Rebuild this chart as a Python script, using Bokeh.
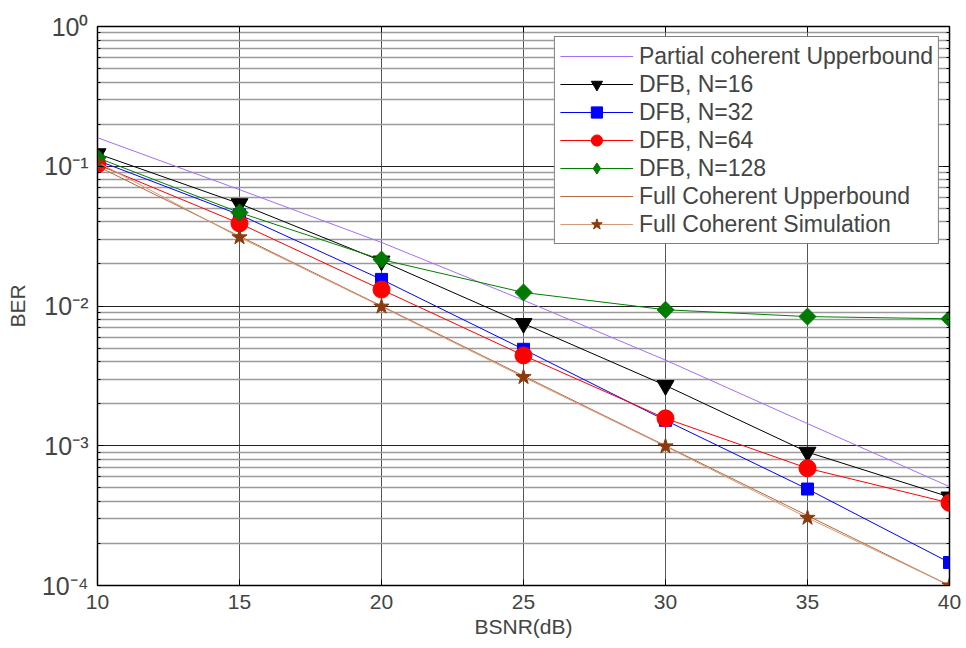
import math
from bokeh.plotting import figure
from bokeh.models import (Range1d, FixedTicker, LogAxis, LinearAxis,
                          CustomJSTickFormatter, Legend, LegendItem)
from bokeh.embed import file_html
from bokeh.resources import INLINE

# ---------------- data ----------------
bsnr = [10, 15, 20, 25, 30, 35, 40]
partial_upper = [0.16, 0.068, 0.0285, 0.011, 0.0041, 0.00144, 0.00051]
dfb_16 = [0.123, 0.054, 0.021, 0.0075, 0.0027, 0.00090, 0.00043]
dfb_32 = [0.11, 0.045, 0.0155, 0.0049, 0.00152, 0.00049, 0.000146]
dfb_64 = [0.103, 0.039, 0.0131, 0.00443, 0.00157, 0.00069, 0.00039]
dfb_128 = [0.115, 0.0466, 0.0215, 0.0125, 0.0094, 0.0084, 0.0081]
full_upper = [0.1, 0.0316, 0.01, 0.00316, 0.001, 0.000316, 0.0001]
full_sim = [0.107, 0.031, 0.0099, 0.0031, 0.00099, 0.000305, 0.0001]

x_ticks = [10, 15, 20, 25, 30, 35, 40]
y_exponents = [0, -1, -2, -3, -4]
y_tick_labels = ["10\u2070", "10\u207b\u00b9", "10\u207b\u00b2", "10\u207b\u00b3", "10\u207b\u2074"]

FONT = "Liberation Sans"

p = figure(width=966, height=648, y_axis_type="log",
           x_range=Range1d(10, 40), y_range=Range1d(1e-4, 1),
           output_backend="svg", toolbar_location=None,
           min_border_left=97, min_border_right=17,
           min_border_top=26, min_border_bottom=63)
p.background_fill_color = "white"
p.border_fill_color = "white"
p.outline_line_color = "black"
p.outline_line_width = 1.5

y_major = [10.0 ** e for e in y_exponents]
y_minor = [m * 10.0 ** e for e in y_exponents[1:] for m in range(2, 10)]

# x axis
p.xaxis.ticker = FixedTicker(ticks=x_ticks)
p.xaxis.axis_label = "BSNR(dB)"
p.xaxis.axis_label_text_font = FONT
p.xaxis.axis_label_text_font_size = "21px"
p.xaxis.axis_label_text_font_style = "normal"
p.xaxis.axis_label_standoff = 3
p.xaxis.major_label_text_font = FONT
p.xaxis.major_label_text_font_size = "21px"
p.xaxis.major_label_standoff = 9
p.xaxis.major_tick_in = 6
p.xaxis.major_tick_out = 0
p.xaxis.minor_tick_in = 0
p.xaxis.minor_tick_out = 0
p.xaxis.axis_line_color = "black"

# y axis
p.yaxis.ticker = FixedTicker(ticks=y_major, minor_ticks=y_minor)
p.yaxis.major_label_overrides = {v: t for v, t in zip(y_major, y_tick_labels)}
p.yaxis.major_label_text_font = FONT
p.yaxis.major_label_text_font_size = "25px"
p.yaxis.axis_label = "BER"
p.yaxis.axis_label_text_font = FONT
p.yaxis.axis_label_text_font_size = "21px"
p.yaxis.axis_label_text_font_style = "normal"
p.yaxis.axis_label_standoff = 10
p.yaxis.major_label_standoff = 9
p.yaxis.major_tick_in = 6
p.yaxis.major_tick_out = 0
p.yaxis.minor_tick_in = 3
p.yaxis.minor_tick_out = 0

# grids
p.xgrid.ticker = FixedTicker(ticks=x_ticks)
p.xgrid.grid_line_color = "#555555"
p.xgrid.grid_line_width = 1
p.ygrid.ticker = FixedTicker(ticks=y_major, minor_ticks=y_minor)
p.ygrid.grid_line_color = "#222222"
p.ygrid.grid_line_width = 1
p.ygrid.minor_grid_line_color = "#9a9a9a"
p.ygrid.minor_grid_line_width = 1.3

# box ticks on top/right
top_ax = LinearAxis(ticker=FixedTicker(ticks=x_ticks),
                    formatter=CustomJSTickFormatter(code="return ''"),
                    major_label_standoff=0, major_tick_in=6, major_tick_out=0,
                    minor_tick_in=0, minor_tick_out=0)
p.add_layout(top_ax, "above")
right_ax = LogAxis(ticker=FixedTicker(ticks=y_major, minor_ticks=y_minor),
                   formatter=CustomJSTickFormatter(code="return ''"),
                   major_label_standoff=0, major_tick_in=6, major_tick_out=0,
                   minor_tick_in=3, minor_tick_out=0)
p.add_layout(right_ax, "right")

# series
items = []
r = p.line(bsnr, partial_upper, line_color="#a66ef8", line_width=1)
items.append(LegendItem(label="Partial coherent Upperbound", renderers=[r]))

r1 = p.line(bsnr, dfb_16, line_color="black", line_width=1)
r2 = p.scatter(bsnr, dfb_16, marker="inverted_triangle", size=17,
               fill_color="black", line_color="black")
items.append(LegendItem(label="DFB, N=16", renderers=[r1, r2]))

r1 = p.line(bsnr, dfb_32, line_color="#0000ff", line_width=1)
r2 = p.scatter(bsnr, dfb_32, marker="square", size=12,
               fill_color="#0000ff", line_color="#0000ff")
items.append(LegendItem(label="DFB, N=32", renderers=[r1, r2]))

r1 = p.line(bsnr, dfb_64, line_color="#ff0000", line_width=1)
r2 = p.scatter(bsnr, dfb_64, marker="circle", size=17,
               fill_color="#ff0000", line_color="#ff0000")
items.append(LegendItem(label="DFB, N=64", renderers=[r1, r2]))

r1 = p.line(bsnr, dfb_128, line_color="#008000", line_width=1)
# small diamond (legend glyph) hidden under the rotated square markers
r3 = p.scatter(bsnr, dfb_128, marker="diamond", size=12,
               fill_color="#007a00", line_color="#007a00")
r2 = p.scatter(bsnr, dfb_128, marker="square", angle=math.pi / 4, size=12,
               fill_color="#007a00", line_color="#007a00")
items.append(LegendItem(label="DFB, N=128", renderers=[r1, r3]))

r = p.line(bsnr, full_upper, line_color="#b8693e", line_width=1)
items.append(LegendItem(label="Full Coherent Upperbound", renderers=[r]))

r1 = p.line(bsnr, full_sim, line_color="#d39a78", line_width=1)
r2 = p.scatter(bsnr, full_sim, marker="star", size=16,
               fill_color="#8b3a0c", line_color="#8b3a0c")
items.append(LegendItem(label="Full Coherent Simulation", renderers=[r1, r2]))

legend = Legend(items=items, location="top_right",
                label_text_font=FONT, label_text_font_size="23px",
                label_height=28, glyph_height=28, glyph_width=73,
                label_standoff=6, spacing=0, padding=5, margin=10,
                border_line_color="black", border_line_width=1.5,
                background_fill_color="white", background_fill_alpha=1.0)
p.add_layout(legend, "center")

open("out.html", "w").write(file_html(p, INLINE))
